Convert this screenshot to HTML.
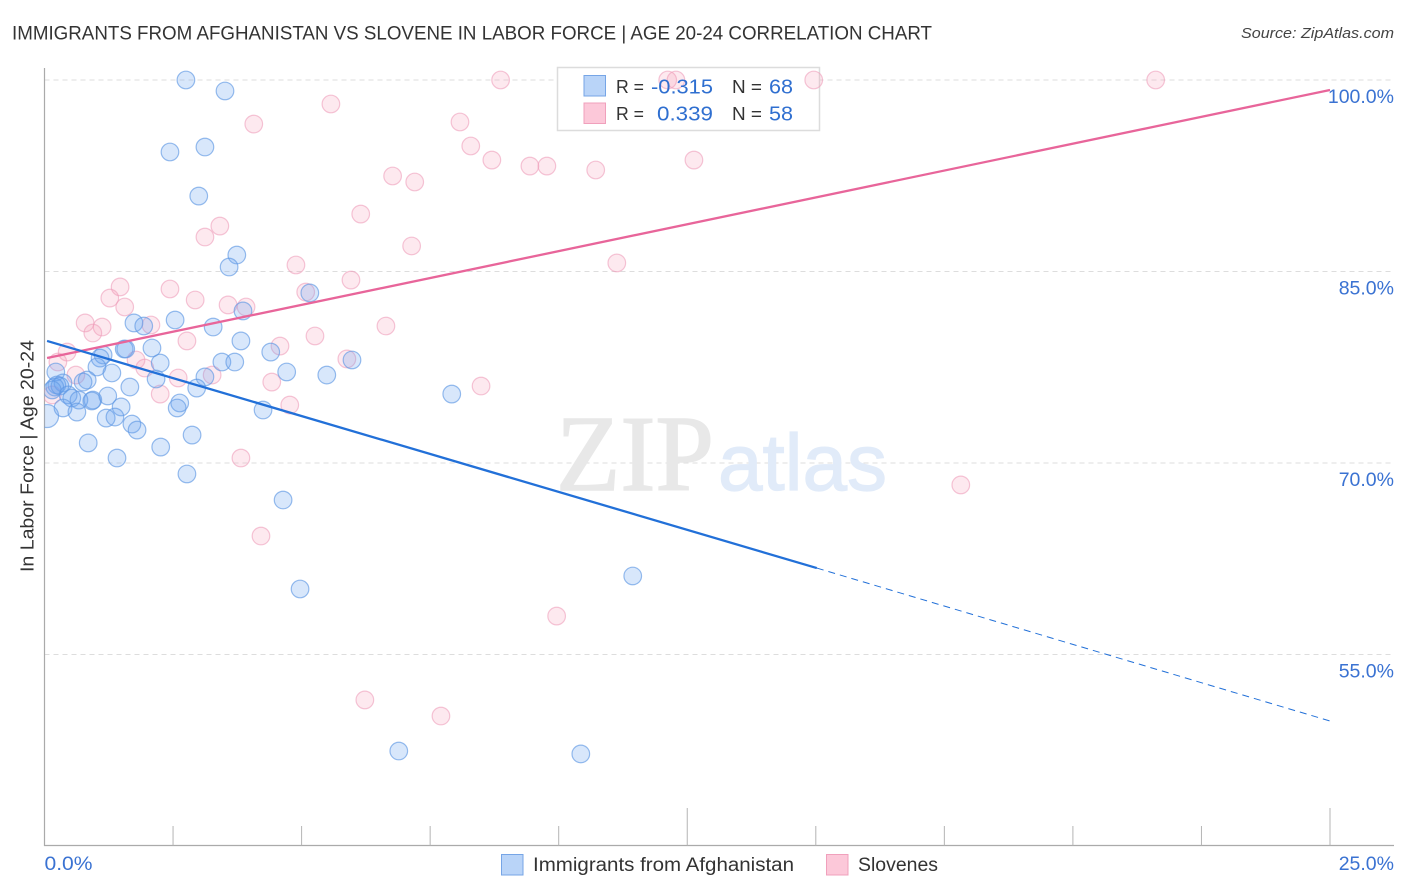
<!DOCTYPE html>
<html lang="en">
<head>
<meta charset="utf-8">
<title>Immigrants from Afghanistan vs Slovene in Labor Force | Age 20-24 Correlation Chart</title>
<style>
html,body{margin:0;padding:0;background:#fff;width:1406px;height:892px;overflow:hidden}
svg{display:block;font-family:"Liberation Sans",sans-serif}
</style>
</head>
<body>
<svg id="chart" width="1406" height="892" viewBox="0 0 1406 892" xmlns="http://www.w3.org/2000/svg">
  <defs><clipPath id="plot-clip"><rect x="44.5" y="60" width="1350" height="786"/></clipPath></defs>
  <text x="12" y="39.5" font-size="19" fill="#333" textLength="920" lengthAdjust="spacingAndGlyphs">IMMIGRANTS FROM AFGHANISTAN VS SLOVENE IN LABOR FORCE | AGE 20-24 CORRELATION CHART</text>
  <text x="1394" y="38" font-size="15" font-style="italic" fill="#444" text-anchor="end" textLength="153" lengthAdjust="spacingAndGlyphs">Source: ZipAtlas.com</text>
  <g id="grid"></g>
  <g>
    <text x="556" y="490" font-family="'Liberation Serif',serif" font-size="108" fill="#e8e8e8" stroke="#e8e8e8" stroke-width="1.5" textLength="158" lengthAdjust="spacingAndGlyphs">ZIP</text>
    <text x="718" y="490" font-size="80" fill="#e1ebf9" stroke="#e1ebf9" stroke-width="1.2" textLength="169" lengthAdjust="spacingAndGlyphs">atlas</text>
  </g>
  <g id="axes"></g>
  <rect x="557.5" y="67.5" width="262" height="63" fill="#fff" stroke="#dcdcdc" stroke-width="1.5"/>
  <g id="points" clip-path="url(#plot-clip)"></g>
  <g id="trends"></g>
  <text transform="translate(33.5 456) rotate(-90)" font-size="18.5" fill="#333" text-anchor="middle" textLength="232" lengthAdjust="spacingAndGlyphs">In Labor Force | Age 20-24</text>
  <g id="tick-labels"></g>
  <g>
    <rect x="584" y="75.5" width="21.5" height="20.5" fill="#b9d4f8" stroke="#76a5e6" stroke-width="1"/>
    <rect x="584" y="103" width="21.5" height="20.5" fill="#fcc8d9" stroke="#f0a0bc" stroke-width="1"/>
    <text x="616" y="93" font-size="18" fill="#333" textLength="28" lengthAdjust="spacingAndGlyphs">R =</text>
    <text x="651" y="93.5" font-size="20.5" fill="#2f6fd0" textLength="62" lengthAdjust="spacingAndGlyphs">-0.315</text>
    <text x="732" y="93" font-size="18" fill="#333" textLength="30" lengthAdjust="spacingAndGlyphs">N =</text>
    <text x="769" y="93.5" font-size="20.5" fill="#2f6fd0" textLength="24" lengthAdjust="spacingAndGlyphs">68</text>
    <text x="616" y="120" font-size="18" fill="#333" textLength="28" lengthAdjust="spacingAndGlyphs">R =</text>
    <text x="657" y="120.5" font-size="20.5" fill="#2f6fd0" textLength="56" lengthAdjust="spacingAndGlyphs">0.339</text>
    <text x="732" y="120" font-size="18" fill="#333" textLength="30" lengthAdjust="spacingAndGlyphs">N =</text>
    <text x="769" y="120.5" font-size="20.5" fill="#2f6fd0" textLength="24" lengthAdjust="spacingAndGlyphs">58</text>
  </g>
  <g>
    <rect x="501.5" y="854.5" width="21.5" height="20.5" fill="#b9d4f8" stroke="#76a5e6" stroke-width="1"/>
    <text x="533" y="871" font-size="19" fill="#333" textLength="261" lengthAdjust="spacingAndGlyphs">Immigrants from Afghanistan</text>
    <rect x="826.5" y="854.5" width="21.5" height="20.5" fill="#fcc8d9" stroke="#f0a0bc" stroke-width="1"/>
    <text x="858" y="871" font-size="19" fill="#333" textLength="80" lengthAdjust="spacingAndGlyphs">Slovenes</text>
  </g>
</svg>
<script>
const xTickValues = [0, 2.5, 5, 7.5, 10, 12.5, 15, 17.5, 20, 22.5, 25];
const xMajorTicks = [12.5, 25];
const yGridValues = [100, 85, 70, 55];
const yTickLabels = ["100.0%", "85.0%", "70.0%", "55.0%"];
const xTickLabels = ["0.0%", "25.0%"];

const afghanX = [2.75,3.51,2.44,3.12,3.00,3.74,3.59,5.16,3.86,2.54,1.74,1.93,3.28,3.82,1.55,1.58,2.09,4.40,1.14,1.08,5.98,2.25,3.45,3.70,1.02,0.22,1.31,4.71,5.49,3.12,2.17,0.36,0.83,0.75,1.66,2.96,0.24,0.20,0.30,7.92,1.23,0.46,0.53,0.67,0.94,0.92,0.36,0.63,2.63,2.58,1.49,4.25,1.20,1.37,0.05,1.70,1.80,2.87,0.85,2.26,1.41,2.77,4.64,11.44,4.97,6.89,10.43,0.15];
const afghanY = [100,99.14,94.36,94.75,90.91,86.29,85.35,83.32,81.91,81.20,80.97,80.73,80.65,79.56,78.93,78.93,79.01,78.69,78.46,78.22,78.07,77.83,77.91,77.91,77.52,77.13,77.05,77.13,76.89,76.74,76.58,76.27,76.50,76.34,75.95,75.87,76.11,75.95,76.03,75.40,75.25,75.33,75.09,74.93,74.93,74.86,74.31,73.99,74.70,74.31,74.39,74.15,73.52,73.60,73.68,73.05,72.58,72.19,71.57,71.25,70.39,69.14,67.10,61.15,60.13,47.44,47.21,75.72];
const sloveneX = [8.87,12.12,12.28,14.96,21.61,5.57,4.07,8.08,8.29,8.70,9.44,9.77,10.72,12.63,6.77,7.20,6.15,3.41,3.12,7.14,4.89,11.13,5.96,1.47,2.44,1.27,2.93,1.56,3.57,3.92,5.08,0.79,1.12,0.94,2.07,6.64,5.26,2.77,4.58,0.44,5.88,0.26,1.95,1.78,0.61,2.60,3.26,4.42,8.49,2.25,4.77,0.15,3.82,17.82,4.21,9.96,6.23,7.71];
const sloveneY = [100,100,100,100,100,98.12,96.55,96.71,94.83,93.73,93.26,93.26,92.95,93.73,92.48,92.01,89.50,88.56,87.70,87.00,85.51,85.67,84.33,83.79,83.63,82.92,82.77,82.22,82.38,82.22,83.39,80.97,80.65,80.18,80.81,80.73,79.95,79.56,79.16,78.69,78.15,77.91,77.44,78.07,76.89,76.66,76.89,76.34,76.03,75.40,74.54,75.33,70.39,68.28,64.28,58.01,51.44,50.18];

const afghanTrendX = [0.05, 15.02];
const afghanTrendY = [79.56, 61.77];
const afghanDashX = [15.02, 25];
const afghanDashY = [61.77, 49.79];
const sloveneTrendX = [0.05, 25];
const sloveneTrendY = [78.22, 99.22];

const SVGNS = "http://www.w3.org/2000/svg";
function xScale(v){ return 44.5 + v * (1330 - 44.5) / 25; }
function yScale(v){ return 80 + (100 - v) * 191.5 / 15; }
function make(tag, attrs, parent){
  const el = document.createElementNS(SVGNS, tag);
  for (const k in attrs) el.setAttribute(k, attrs[k]);
  parent.appendChild(el);
  return el;
}

const gridG = document.getElementById("grid");
const axesG = document.getElementById("axes");
const labelsG = document.getElementById("tick-labels");
const pointsG = document.getElementById("points");
const trendsG = document.getElementById("trends");

yGridValues.forEach(function(v, i){
  const line = make("line", {x1:44.5, x2:1394, y1:yScale(v), y2:yScale(v), stroke:"#dddddd", "stroke-width":1, "stroke-dasharray":"5 4"}, gridG);
  
  
  const t = make("text", {x:1394, y:yScale(v) + 23, "font-size":19.5, fill:"#3a72d2", "text-anchor":"end"}, labelsG);
  t.textContent = yTickLabels[i];
  
  
});

const yAxisLine = make("line", {x1:44.5, x2:44.5, y1:68, y2:846, stroke:"#aaaaaa", "stroke-width":1.2}, axesG);


const xAxisLine = make("line", {x1:44, x2:1394, y1:845.5, y2:845.5, stroke:"#aaaaaa", "stroke-width":1.2}, axesG);



xTickValues.forEach(function(v){
  if (v === 0) return;
  const top = xMajorTicks.indexOf(v) >= 0 ? 808 : 826;
  const tick = make("line", {x1:xScale(v), x2:xScale(v), y1:top, y2:845.5, stroke:"#b4b4b4", "stroke-width":1}, axesG);
  
  
});

const xLabelLeft = make("text", {x:44.5, y:870, "font-size":19.5, fill:"#3a72d2", textLength:48, lengthAdjust:"spacingAndGlyphs"}, labelsG);
xLabelLeft.textContent = xTickLabels[0];


const xLabelRight = make("text", {x:1394, y:870, "font-size":19.5, fill:"#3a72d2", "text-anchor":"end"}, labelsG);
xLabelRight.textContent = xTickLabels[1];



sloveneX.forEach(function(v, i){
  const c = make("circle", {cx:xScale(v), cy:yScale(sloveneY[i]), r:8.8, fill:"#f49ab8", "fill-opacity":0.22, stroke:"#ee9fba", "stroke-opacity":0.6, "stroke-width":1.2}, pointsG);
  
  
});
afghanX.forEach(function(v, i){
  const big = v < 0.1;
  const c = make("circle", {cx:xScale(v), cy:yScale(afghanY[i]), r:big ? 11.5 : 8.8, fill:"#6aa3ee", "fill-opacity":0.26, stroke:"#6098e4", "stroke-opacity":0.65, "stroke-width":1.2}, pointsG);
  
  
});

const sloveneLine = make("line", {x1:xScale(sloveneTrendX[0]), y1:yScale(sloveneTrendY[0]), x2:xScale(sloveneTrendX[1]), y2:yScale(sloveneTrendY[1]), stroke:"#e8659a", "stroke-width":2.3}, trendsG);


const afghanLine = make("line", {x1:xScale(afghanTrendX[0]), y1:yScale(afghanTrendY[0]), x2:xScale(afghanTrendX[1]), y2:yScale(afghanTrendY[1]), stroke:"#2270d8", "stroke-width":2.3}, trendsG);


const afghanDash = make("line", {x1:xScale(afghanDashX[0]), y1:yScale(afghanDashY[0]), x2:xScale(afghanDashX[1]), y2:yScale(afghanDashY[1]), stroke:"#2270d8", "stroke-width":1, "stroke-dasharray":"7 5"}, trendsG);


</script>
</body>
</html>
